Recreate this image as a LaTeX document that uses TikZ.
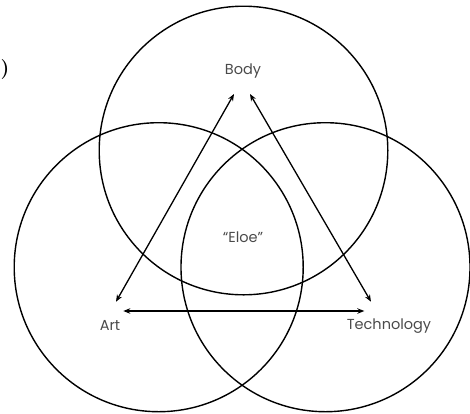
\documentclass[tikz,border=0pt]{standalone}
\usepackage{fontspec}
\newfontfamily\labfont{Poppins}
\usetikzlibrary{arrows.meta}
\definecolor{labgray}{HTML}{4A4A4A}
\tikzset{
  ring/.style={draw=black, line width=1.4pt},
  lab/.style={font=\labfont\fontsize{14.5}{16}\selectfont, text=labgray, inner sep=0pt},
  link/.style={draw=black, line width=1.3pt, {Stealth[length=7pt,width=5.5pt]}-{Stealth[length=7pt,width=5.5pt]}}
}
\begin{document}
\begin{tikzpicture}[x=1pt,y=-1pt]
\useasboundingbox (0,0) rectangle (470,413);
\draw[ring] (243.5,150.5) circle (144.3);
\draw[ring] (158.7,267.2) circle (144.5);
\draw[ring] (325.5,267.2) circle (144.5);
\node[lab] (body) at (243,71) {Body};
\node[lab] (eloe) at (243,237) {“Eloe”};
\node[lab] (art) at (110,325) {Art};
\node[lab] (tech) at (389,326) {Technology};
\node[font=\bfseries\fontsize{20}{22}\selectfont, inner sep=0pt, anchor=west] (cut) at (0.5,70) {)};
\coordinate (artB) at (116,301.7);
\coordinate (bodyL) at (234,94);
\coordinate (bodyR) at (250,94);
\coordinate (techT) at (371,301.7);
\coordinate (artR) at (123.3,311);
\coordinate (techL) at (364.3,311);
\draw[link] (artB) -- (bodyL);
\draw[link] (bodyR) -- (techT);
\draw[link] (artR) -- (techL);
\end{tikzpicture}
\end{document}
